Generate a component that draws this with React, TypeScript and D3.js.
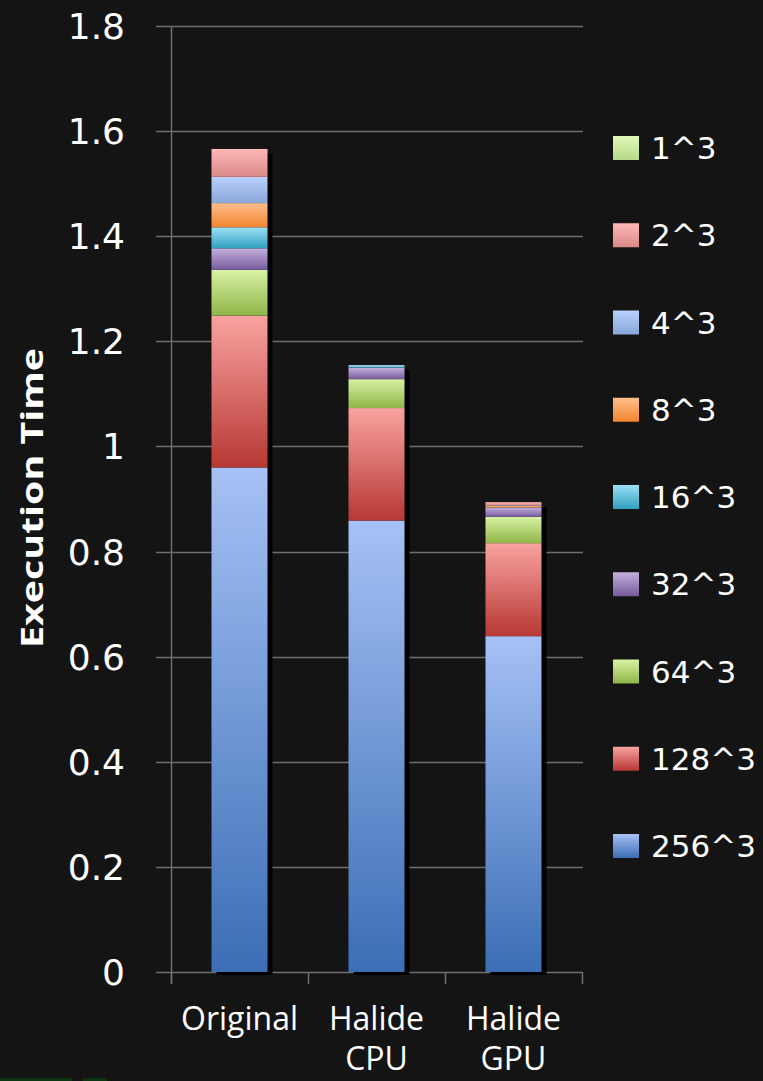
import React from "react";
import * as d3 from "d3";

// Categories along the x axis (label lines)
const categories = ["Original", "Halide CPU", "Halide GPU"];
const categoryLines = [["Original"], ["Halide", "CPU"], ["Halide", "GPU"]];

// Stack series, bottom to top
const seriesKeys = ["256^3", "128^3", "64^3", "32^3", "16^3", "8^3", "4^3", "2^3", "1^3"];

// Execution time per series, one value per category
const v256 = [0.96, 0.859, 0.639];
const v128 = [0.289, 0.214, 0.177];
const v64 = [0.087, 0.055, 0.05];
const v32 = [0.041, 0.022, 0.018];
const v16 = [0.04, 0.003, 0.0];
const v8 = [0.046, 0.0, 0.003];
const v4 = [0.05, 0.002, 0.001];
const v2 = [0.053, 0.0, 0.006];
const v1 = [0.0, 0.0, 0.0];

const yTicks = [0, 0.2, 0.4, 0.6, 0.8, 1, 1.2, 1.4, 1.6, 1.8];

// Gradient stops (top, bottom) per series
const gradTop: Record<string, string> = {
  "256^3": "#a6c1f5",
  "128^3": "#f9a3a0",
  "64^3": "#d8f2a3",
  "32^3": "#c5b1df",
  "16^3": "#9ae1f6",
  "8^3": "#ffbe8a",
  "4^3": "#b9d1fc",
  "2^3": "#ffb9b7",
  "1^3": "#e3f9b9",
};
const gradBottom: Record<string, string> = {
  "256^3": "#3b6eb5",
  "128^3": "#b73834",
  "64^3": "#90b548",
  "32^3": "#765a9c",
  "16^3": "#31a0bf",
  "8^3": "#f2842f",
  "4^3": "#8aa7d8",
  "2^3": "#da8988",
  "1^3": "#b6d888",
};

const seriesValues: Record<string, number[]> = {
  "256^3": v256,
  "128^3": v128,
  "64^3": v64,
  "32^3": v32,
  "16^3": v16,
  "8^3": v8,
  "4^3": v4,
  "2^3": v2,
  "1^3": v1,
};

const W = 763;
const H = 1081;
const BG = "#141414";
const GRID = "#6e6e6e";

export default function App() {
  const rows = categories.map((c, i) => {
    const r: Record<string, any> = { category: c };
    seriesKeys.forEach((k) => (r[k] = seriesValues[k][i]));
    return r;
  });
  const stacked = d3.stack<any>().keys(seriesKeys)(rows);

  const y = d3.scaleLinear().domain([0, 1.8]).range([972, 26]);
  const x = d3.scaleBand().domain(categories).range([171, 582]).padding(0);
  const barW = 56;
  const barX = (c: string) => (x(c) as number) + (x.bandwidth() - barW) / 2;

  const legendKeys = [...seriesKeys].reverse();
  const legendY = d3.scalePoint().domain(legendKeys).range([148, 846]);

  const gradId = (k: string) => "g" + k.replace("^", "_");

  return (
    <svg
      width={W}
      height={H}
      style={{ position: "absolute", left: 0, top: 0, background: BG }}
    >
      <defs>
        {seriesKeys.map((k) => (
          <linearGradient key={k} id={gradId(k)} x1="0" y1="0" x2="0" y2="1">
            <stop offset="0" stopColor={gradTop[k]} />
            <stop offset="1" stopColor={gradBottom[k]} />
          </linearGradient>
        ))}
      </defs>
      <rect x={0} y={0} width={W} height={H} fill={BG} />

      {/* horizontal gridlines */}
      {yTicks.map((t) => (
        <line
          key={t}
          x1={156}
          x2={583}
          y1={Math.round(y(t)) + 0.5}
          y2={Math.round(y(t)) + 0.5}
          stroke={GRID}
          strokeWidth={1.5}
        />
      ))}
      {/* y axis line */}
      <line x1={171.5} x2={171.5} y1={26} y2={984} stroke={GRID} strokeWidth={1.5} />
      {/* x axis category ticks */}
      {[171, 308, 445, 582].map((t) => (
        <line key={t} x1={t + 0.5} x2={t + 0.5} y1={972} y2={984} stroke={GRID} strokeWidth={1.5} />
      ))}

      {/* y tick labels */}
      {yTicks.map((t) => (
        <text
          key={t}
          x={125}
          y={y(t)}
          dy="0.36em"
          textAnchor="end"
          fill="#ffffff"
          fontFamily="'DejaVu Sans', sans-serif"
          fontSize={36}
        >
          {d3.format("~g")(t)}
        </text>
      ))}

      {/* axis title */}
      <text
        transform={`translate(43, 498) rotate(-90)`}
        textAnchor="middle"
        fill="#ffffff"
        fontFamily="'Open Sans', sans-serif"
        fontWeight="bold"
        fontSize={31}
        textLength={300}
        lengthAdjust="spacingAndGlyphs"
      >
        Execution Time
      </text>

      {/* bar shadows */}
      {categories.map((c, i) => {
        const top = stacked[stacked.length - 1][i][1];
        return (
          <rect
            key={c}
            x={barX(c) + 5}
            y={y(top) + 5}
            width={barW}
            height={y(0) - y(top) - 2}
            fill="#000000"
          />
        );
      })}

      {/* stacked segments */}
      {stacked.map((s) =>
        s.map((d, i) => {
          const h = y(d[0]) - y(d[1]);
          if (h <= 0) return null;
          return (
            <rect
              key={s.key + i}
              x={barX(categories[i])}
              y={y(d[1])}
              width={barW}
              height={h}
              fill={`url(#${gradId(s.key)})`}
            />
          );
        })
      )}

      {/* category labels */}
      {categories.map((c, i) => (
        <text
          key={c}
          textAnchor="middle"
          fill="#ffffff"
          fontFamily="'Open Sans', sans-serif"
          fontSize={32}
        >
          {categoryLines[i].map((line, j) => (
            <tspan key={j} x={(x(c) as number) + x.bandwidth() / 2} y={1030 + j * 40}>
              {line}
            </tspan>
          ))}
        </text>
      ))}

      {/* legend */}
      {legendKeys.map((k) => {
        const cy = legendY(k) as number;
        return (
          <g key={k}>
            <rect x={613} y={cy - 12} width={26} height={24} fill={`url(#${gradId(k)})`} />
            <text
              x={651}
              y={cy}
              dy="0.36em"
              fill="#ffffff"
              fontFamily="'DejaVu Sans', sans-serif"
              fontSize={31}
            >
              {k}
            </text>
          </g>
        );
      })}

      {/* faint green strip at the lower left edge */}
      <rect x={0} y={1078} width={72} height={3} fill="#0d3512" />
      <rect x={83} y={1078} width={24} height={3} fill="#0d3512" />
    </svg>
  );
}
